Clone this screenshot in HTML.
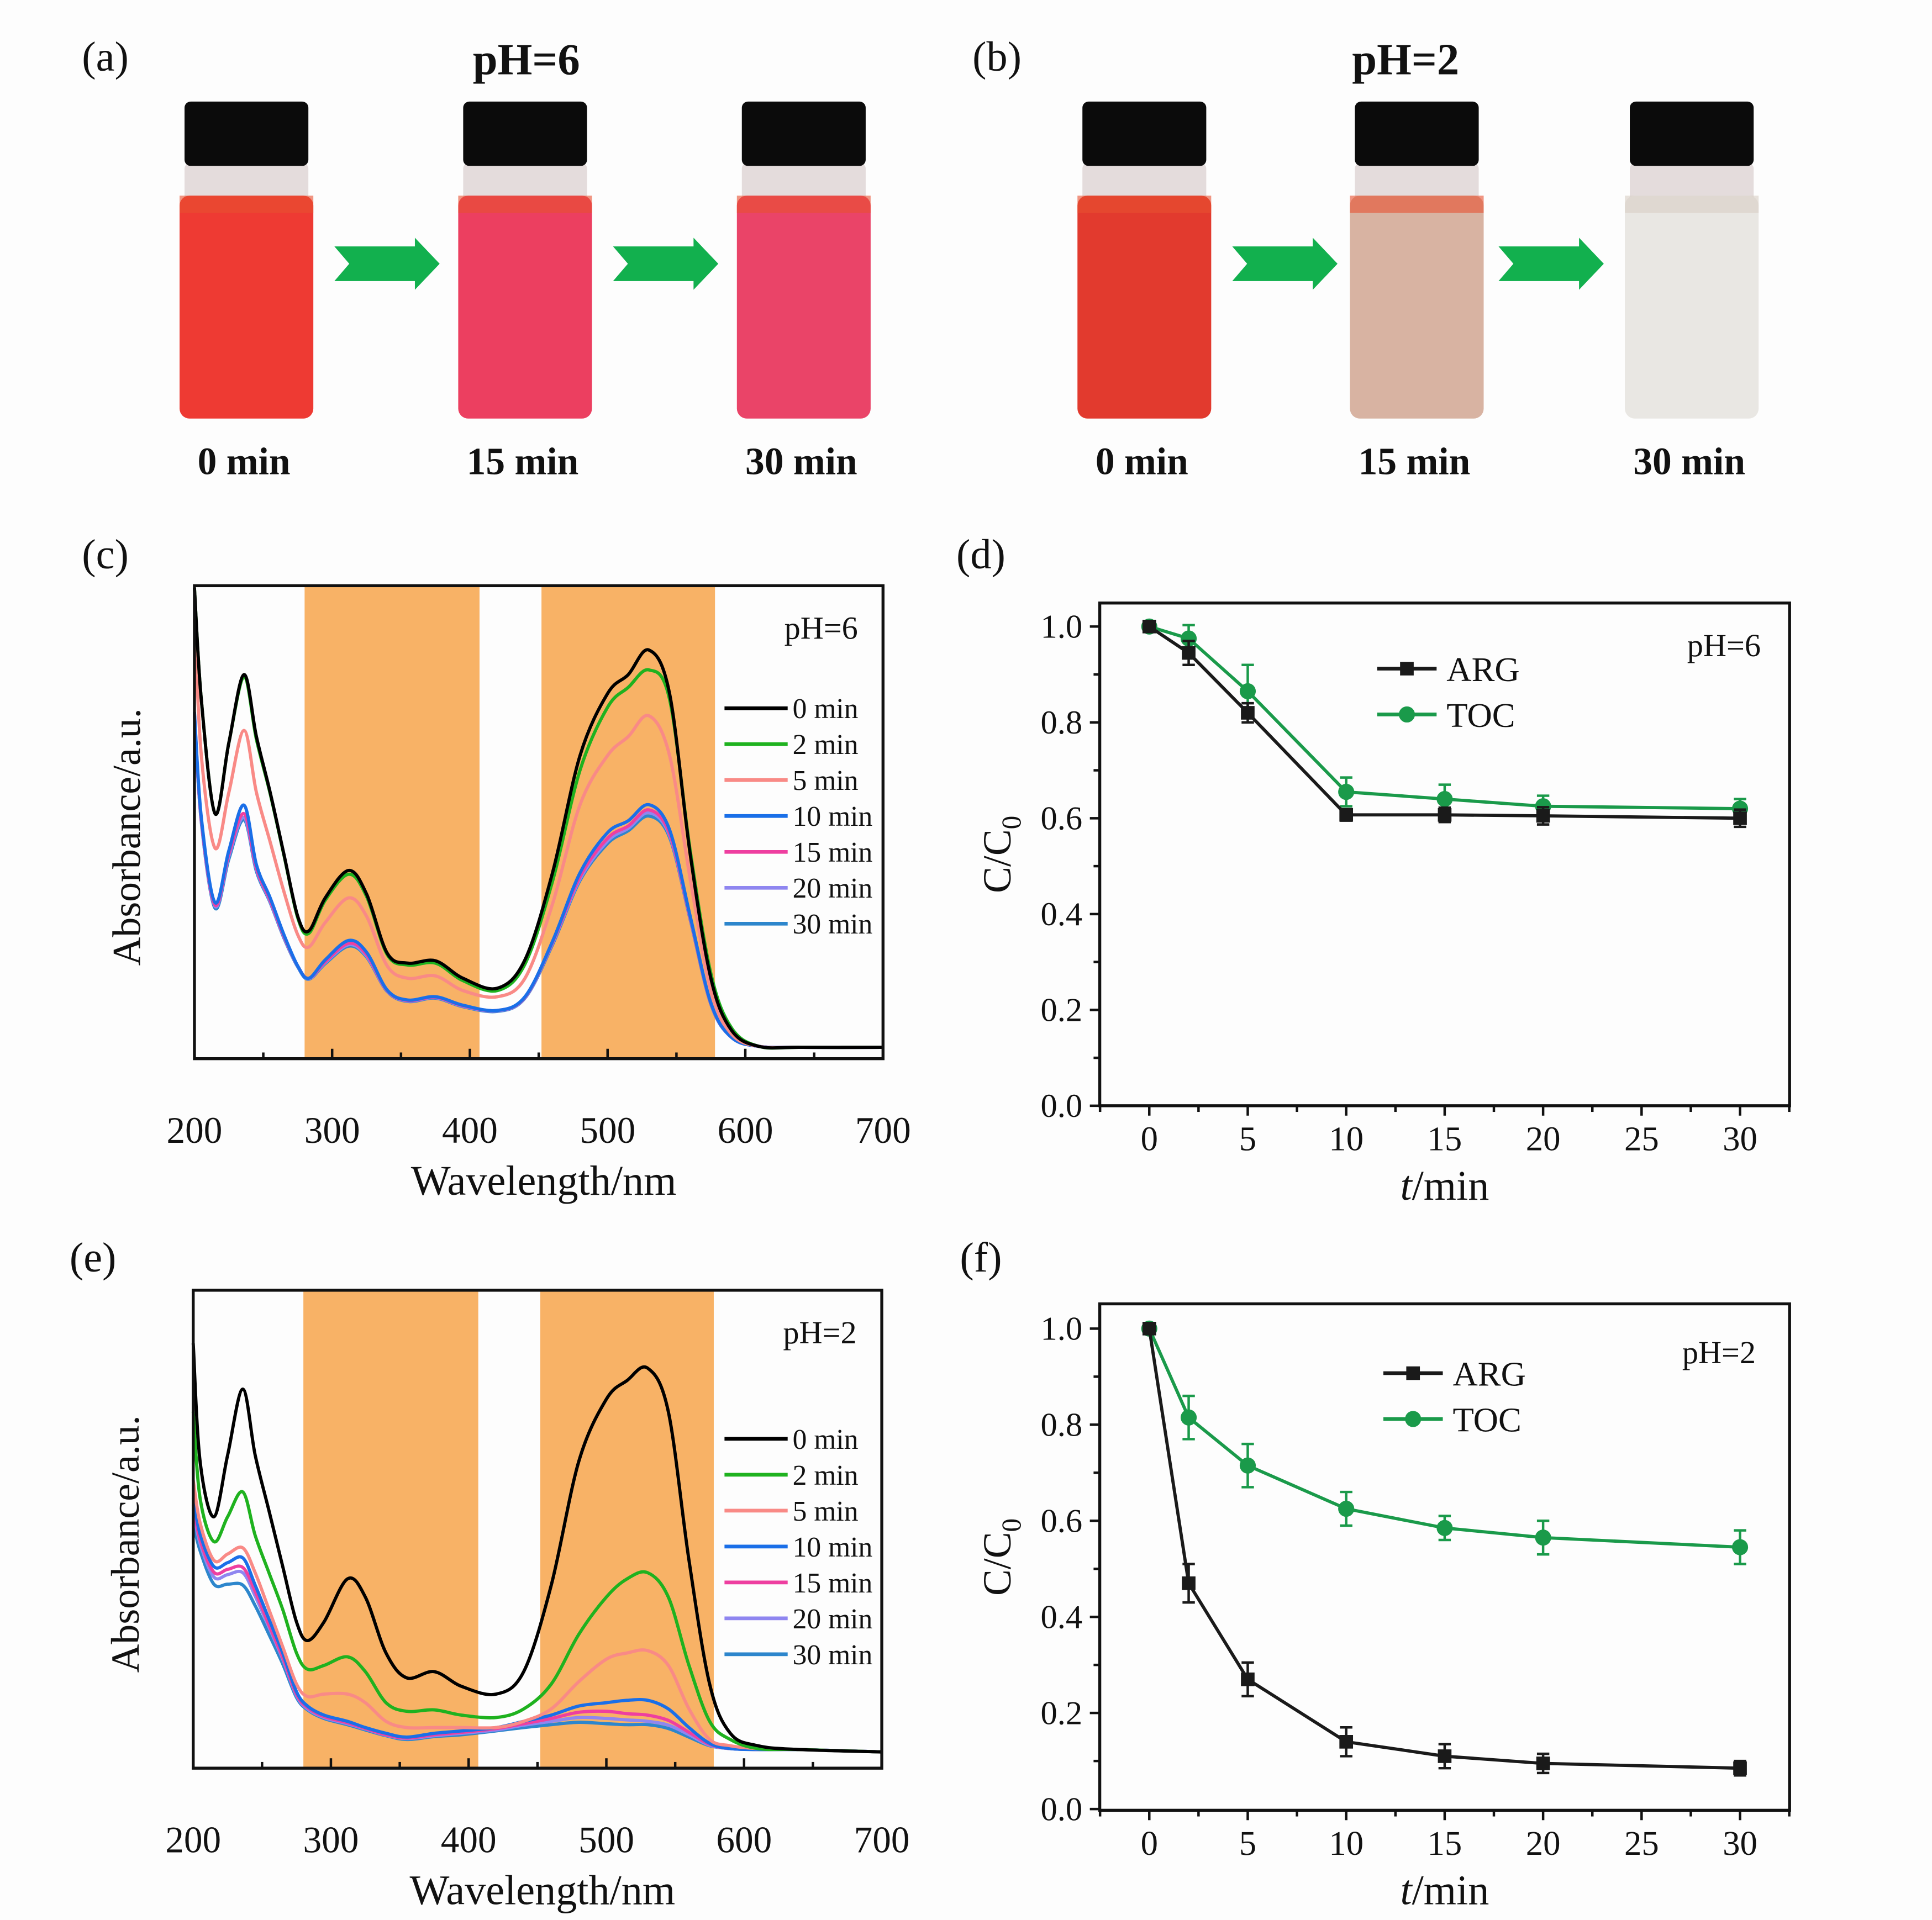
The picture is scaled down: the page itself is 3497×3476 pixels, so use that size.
<!DOCTYPE html>
<html><head><meta charset="utf-8"><style>
html,body{margin:0;padding:0;background:#fff}
svg{display:block}
text{font-family:"Liberation Serif",serif;fill:#111}
</style></head><body>
<svg id="fig" width="3497" height="3476" viewBox="0 0 1560 1550.6" xmlns="http://www.w3.org/2000/svg">
<rect x="0" y="0" width="1560" height="1551" fill="#fdfdfd"/>
<g id="photos"></g>
<g id="pc"></g>
<g id="pe"></g>
<g id="pd"></g>
<g id="pf"></g>
</svg>
<script>
// ---- data ----
const wavelengths=[200,205,215,225,236,245,255,265,275,283,295,312,325,340,355,375,395,420,440,460,480,500,515,530,545,560,575,590,610,640,700];
const seriesLabels=["0 min","2 min","5 min","10 min","15 min","20 min","30 min"];
const seriesColors=["#000000","#1fb21f","#f98a86","#1a6fe8","#ee3fa0","#8f86f0","#2d86cc"];
// pH=6 absorbance (arbitrary units, 0..1 of plot height)
const ph6_0=[0.995,0.759,0.518,0.668,0.812,0.681,0.563,0.432,0.301,0.270,0.340,0.398,0.348,0.223,0.202,0.207,0.170,0.149,0.209,0.393,0.641,0.772,0.812,0.864,0.772,0.432,0.170,0.060,0.026,0.024,0.024];
const ph6_2=[0.995,0.759,0.518,0.668,0.806,0.675,0.560,0.430,0.298,0.265,0.335,0.390,0.343,0.220,0.198,0.202,0.165,0.144,0.200,0.375,0.610,0.743,0.785,0.822,0.760,0.440,0.180,0.065,0.026,0.024,0.024];
const ph6_5=[0.930,0.641,0.445,0.563,0.694,0.563,0.458,0.353,0.262,0.236,0.288,0.340,0.301,0.196,0.170,0.175,0.144,0.131,0.170,0.327,0.537,0.641,0.681,0.725,0.641,0.380,0.144,0.052,0.026,0.024,0.024];
const ph6_10=[0.733,0.510,0.330,0.440,0.536,0.410,0.340,0.262,0.196,0.170,0.209,0.250,0.225,0.145,0.124,0.131,0.113,0.102,0.131,0.248,0.393,0.478,0.503,0.537,0.484,0.301,0.118,0.045,0.026,0.024,0.024];
const ph6_15=[0.730,0.505,0.325,0.433,0.518,0.403,0.335,0.259,0.196,0.170,0.205,0.244,0.220,0.144,0.123,0.130,0.112,0.102,0.130,0.246,0.385,0.466,0.492,0.526,0.476,0.298,0.117,0.045,0.026,0.024,0.024];
const ph6_20=[0.728,0.502,0.322,0.428,0.510,0.400,0.332,0.257,0.195,0.169,0.203,0.241,0.217,0.143,0.122,0.129,0.111,0.101,0.129,0.244,0.380,0.460,0.487,0.520,0.472,0.296,0.116,0.045,0.026,0.024,0.024];
const ph6_30=[0.725,0.500,0.318,0.422,0.505,0.396,0.330,0.255,0.194,0.168,0.201,0.238,0.215,0.142,0.121,0.128,0.110,0.100,0.128,0.241,0.377,0.455,0.482,0.513,0.468,0.294,0.115,0.045,0.026,0.024,0.024];
// pH=2
const ph2_0=[0.889,0.642,0.526,0.655,0.793,0.655,0.539,0.422,0.306,0.267,0.306,0.396,0.358,0.241,0.189,0.202,0.171,0.155,0.202,0.383,0.642,0.772,0.811,0.837,0.746,0.435,0.176,0.073,0.047,0.039,0.034];
const ph2_2=[0.746,0.565,0.474,0.526,0.578,0.487,0.409,0.332,0.241,0.207,0.215,0.233,0.202,0.137,0.119,0.122,0.111,0.106,0.124,0.176,0.280,0.358,0.396,0.409,0.358,0.215,0.098,0.060,0.041,0.039,0.034];
const ph2_5=[0.603,0.513,0.435,0.448,0.461,0.409,0.332,0.254,0.176,0.150,0.155,0.155,0.137,0.098,0.085,0.085,0.085,0.085,0.098,0.124,0.181,0.228,0.241,0.246,0.215,0.124,0.060,0.047,0.041,0.039,0.034];
const ph2_10=[0.565,0.490,0.422,0.430,0.440,0.383,0.312,0.241,0.160,0.130,0.111,0.098,0.085,0.073,0.065,0.073,0.078,0.085,0.098,0.111,0.130,0.137,0.142,0.142,0.124,0.085,0.052,0.041,0.039,0.039,0.034];
const ph2_15=[0.550,0.478,0.410,0.416,0.420,0.370,0.300,0.232,0.155,0.127,0.108,0.095,0.083,0.070,0.063,0.070,0.075,0.083,0.093,0.104,0.117,0.119,0.114,0.111,0.100,0.075,0.050,0.041,0.039,0.039,0.034];
const ph2_20=[0.540,0.470,0.400,0.405,0.409,0.360,0.295,0.228,0.152,0.124,0.106,0.093,0.082,0.069,0.062,0.068,0.073,0.080,0.090,0.098,0.106,0.104,0.101,0.098,0.090,0.070,0.048,0.041,0.039,0.039,0.034];
const ph2_30=[0.513,0.455,0.385,0.385,0.383,0.340,0.280,0.218,0.148,0.122,0.104,0.091,0.080,0.068,0.060,0.066,0.070,0.078,0.085,0.091,0.096,0.093,0.091,0.091,0.083,0.065,0.047,0.041,0.039,0.039,0.034];
const wlTicks=[200,300,400,500,600,700];
const bands=[[280,407],[452,578]];
// kinetics
const times=[0,2,5,10,15,20,30];
const argPh6=[1.0,0.945,0.82,0.607,0.607,0.605,0.600];
const tocPh6=[1.0,0.975,0.865,0.655,0.640,0.625,0.620];
const argErrPh6=[0.01,0.025,0.02,0.012,0.015,0.018,0.018];
const tocErrPh6=[0.01,0.028,0.055,0.03,0.03,0.022,0.02];
const argPh2=[1.0,0.47,0.27,0.14,0.11,0.095,0.085];
const tocPh2=[1.0,0.815,0.715,0.625,0.585,0.565,0.545];
const argErrPh2=[0.01,0.04,0.035,0.03,0.025,0.02,0.015];
const tocErrPh2=[0.01,0.045,0.045,0.035,0.025,0.035,0.035];
const tTicks=[0,5,10,15,20,25,30];
const cTicks=[0.0,0.2,0.4,0.6,0.8,1.0];

const NS="http://www.w3.org/2000/svg";
function mk(parent,tag,attrs,txt){const e=document.createElementNS(NS,tag);for(const k in attrs)e.setAttribute(k,attrs[k]);if(txt!==undefined)e.textContent=txt;parent.appendChild(e);return e;}

// ---- photos ----
const ph=document.getElementById('photos');
function txt(p,x,y,s,size,name,bold,anchor){const t=mk(p,'text',{x:x,y:y,'font-size':size,'font-weight':bold?'bold':'normal','text-anchor':anchor||'middle'},s);

return t;}
txt(ph,85,57,"(a)",34,'panel-a-label',false);
txt(ph,805,57,"(b)",34,'panel-b-label',false);
txt(ph,425,60,"pH=6",36,'panel-a-title',true);
txt(ph,1135,60,"pH=2",36,'panel-b-title',true);
const vials=[[145,"#ee3a33","0 min"],[370,"#ec3f60","15 min"],[595,"#ea4468","30 min"],[870,"#e23a2e","0 min"],[1090,"#d8b3a2","15 min"],[1312,"#e9e7e3","30 min"]];
vials.forEach((v,i)=>{const x=v[0],w=108;
 const g=mk(ph,'g',{});
 
 
 mk(g,'rect',{x:x+4,y:132,width:w-8,height:32,fill:'#e4dcdc',rx:4});
 mk(g,'rect',{x:x,y:158,width:w,height:180,fill:v[1],rx:8});
 mk(g,'rect',{x:x,y:158,width:w,height:14,fill:i==5?'#d8cfc4':'#e85030',opacity:0.6});
 mk(g,'rect',{x:x+4,y:82,width:w-8,height:52,fill:'#0b0b0b',rx:5});
 txt(g,x+w/2-2,383,v[2],31,'vial-time-label',true);
});
[[270,355],[495,580],[995,1080],[1210,1295]].forEach((a,i)=>{const p=mk(ph,'polygon',{points:`${a[0]},199 ${a[1]-20},199 ${a[1]-20},192 ${a[1]},213 ${a[1]-20},234 ${a[1]-20},227 ${a[0]},227 ${a[0]+12},213`,fill:'#12b04e'});

});

// ---- spectra panels ----
function spectra(id,box,data,panelLbl,lblPos,phTxt,phPos,legY){
 const g=document.getElementById(id);
 const [x0,x1,y0,y1]=box;
 const X=w=>x0+(w-200)/500*(x1-x0);
 const Y=a=>y1-a*(y1-y0);
 bands.forEach((b,i)=>{const r=mk(g,'rect',{x:X(b[0]),y:y0,width:X(b[1])-X(b[0]),height:y1-y0,fill:'#f8b266'});
 
 });
 for(let s=data.length-1;s>=0;s--){
  const pts=wavelengths.map((w,i)=>[X(w),Y(data[s][i])]);
  let d='M'+pts[0][0]+','+pts[0][1];
  for(let i=0;i<pts.length-1;i++){const p0=pts[i-1]||pts[i],p1=pts[i],p2=pts[i+1],p3=pts[i+2]||p2;
   d+=` C${p1[0]+(p2[0]-p0[0])/6},${p1[1]+(p2[1]-p0[1])/6} ${p2[0]-(p3[0]-p1[0])/6},${p2[1]-(p3[1]-p1[1])/6} ${p2[0]},${p2[1]}`;}
  const pa=mk(g,'path',{d:d,fill:'none',stroke:seriesColors[s],'stroke-width':2.6});
  
  
 }
 const fr=mk(g,'rect',{x:x0,y:y0,width:x1-x0,height:y1-y0,fill:'none',stroke:'#111','stroke-width':2.4});
 
 
 for(let w=200;w<=700;w+=50){const l=mk(g,'line',{x1:X(w),x2:X(w),y1:y1,y2:y1-(w%100==0?8:5),stroke:'#111','stroke-width':2});
 
 }
 wlTicks.forEach(w=>txt(g,X(w),y1+68,String(w),30,'x-tick-label',false));
 txt(g,(x0+x1)/2+4,y1+110,"Wavelength/nm",34,'x-axis-title',false);
 const yt=txt(g,0,0,"Absorbance/a.u.",32,'y-axis-title',false);
 yt.setAttribute('transform',`translate(${x0-44},${(y0+y1)/2+12}) rotate(-90)`);
 txt(g,lblPos[0],lblPos[1],panelLbl,34,'panel-label',false);
 txt(g,phPos[0],phPos[1],phTxt,26,'ph-annotation',false);
 seriesLabels.forEach((s,i)=>{const yy=legY+i*29;
  const l=mk(g,'line',{x1:585,x2:636,y1:yy,y2:yy,stroke:seriesColors[i],'stroke-width':3});
  
  
  txt(g,640,yy+8,s,23,'legend-entry',false,'start');});
}
spectra('pc',[157,713,473,855],[ph6_0,ph6_2,ph6_5,ph6_10,ph6_15,ph6_20,ph6_30],"(c)",[85,459],"pH=6",[663,516],572);
spectra('pe',[156,712,1042,1428],[ph2_0,ph2_2,ph2_5,ph2_10,ph2_15,ph2_20,ph2_30],"(e)",[75,1027],"pH=2",[662,1085],1162);

// ---- kinetics panels ----
function kin(id,box,arg,targ,toc,ttoc,lbl,lblPos,phTxt,phPos,legX,legY){
 const g=document.getElementById(id);
 const [x0,x1,y0,y1,xz,x30,yz,y10]=box;
 const X=t=>xz+t/30*(x30-xz);
 const Y=c=>yz-c*(yz-y10);
 const fr=mk(g,'rect',{x:x0,y:y0,width:x1-x0,height:y1-y0,fill:'none',stroke:'#111','stroke-width':2.4});
 
 
 for(let t=-2.5;t<=32.5;t+=2.5){const xx=X(t);if(xx<x0-1||xx>x1+1)continue;
  const l=mk(g,'line',{x1:xx,x2:xx,y1:y1,y2:y1+(t%5==0?8:5),stroke:'#111','stroke-width':2});
  
  }
 for(let c=0;c<=1.05;c+=0.1){const l=mk(g,'line',{x1:x0,x2:x0-(Math.round(c*10)%2==0?8:5),y1:Y(c),y2:Y(c),stroke:'#111','stroke-width':2});
  
  }
 tTicks.forEach(t=>txt(g,X(t),y1+36,String(t),28,'x-tick-label',false));
 cTicks.forEach(c=>txt(g,x0-14,Y(c)+9,c.toFixed(1),27,'y-tick-label',false,'end'));
 const xt=mk(g,'text',{x:(x0+x1)/2,y:y1+76,'font-size':34,'text-anchor':'middle'});
 
 
 mk(xt,'tspan',{'font-style':'italic'},'t');mk(xt,'tspan',{},'/min');
 const yt=mk(g,'text',{'font-size':32,'text-anchor':'middle',transform:`translate(${x0-72},${(y0+y1)/2}) rotate(-90)`});
 
 
 mk(yt,'tspan',{},'C/C');mk(yt,'tspan',{'font-size':22,dy:8},'0');
 txt(g,lblPos[0],lblPos[1],lbl,34,'panel-label',false);
 txt(g,phPos[0],phPos[1],phTxt,26,'ph-annotation',false);
 const ser=[[toc,ttoc,'#1a9a4a','circle','TOC'],[arg,targ,'#1a1a1a','square','ARG']];
 ser.forEach(s=>{const [v,e,col,shape,name]=s;
  const pl=mk(g,'polyline',{points:times.map((t,i)=>X(t)+','+Y(v[i])).join(' '),fill:'none',stroke:col,'stroke-width':2.6});
  
  
  times.forEach((t,i)=>{const xx=X(t),yy=Y(v[i]),ya=Y(v[i]+e[i]),yb=Y(v[i]-e[i]);
   const eb=mk(g,'path',{d:`M${xx},${ya}V${yb}M${xx-5},${ya}H${xx+5}M${xx-5},${yb}H${xx+5}`,stroke:col,'stroke-width':2,fill:'none'});
   
   
   const m=shape=='circle'?mk(g,'circle',{cx:xx,cy:yy,r:6.5,fill:col}):mk(g,'rect',{x:xx-5.5,y:yy-5.5,width:11,height:11,fill:col});
   
   });
 });
 [['ARG','#1a1a1a','square'],['TOC','#1a9a4a','circle']].forEach((s,i)=>{const yy=legY+i*37;
  const l=mk(g,'line',{x1:legX,x2:legX+48,y1:yy,y2:yy,stroke:s[1],'stroke-width':3});
  
  
  const m=s[2]=='circle'?mk(g,'circle',{cx:legX+24,cy:yy,r:6.5,fill:s[1]}):mk(g,'rect',{x:legX+18.5,y:yy-5.5,width:11,height:11,fill:s[1]});
  
  
  txt(g,legX+56,yy+10,s[0],28,'legend-entry',false,'start');});
}
kin('pd',[888,1445,487,893,928,1405,893,506],argPh6,argErrPh6,tocPh6,tocErrPh6,"(d)",[792,459],"pH=6",[1392,530],1112,540);
kin('pf',[888,1445,1053,1462,928,1405,1461,1073],argPh2,argErrPh2,tocPh2,tocErrPh2,"(f)",[792,1027],"pH=2",[1388,1101],1117,1109);
</script>
</body></html>
